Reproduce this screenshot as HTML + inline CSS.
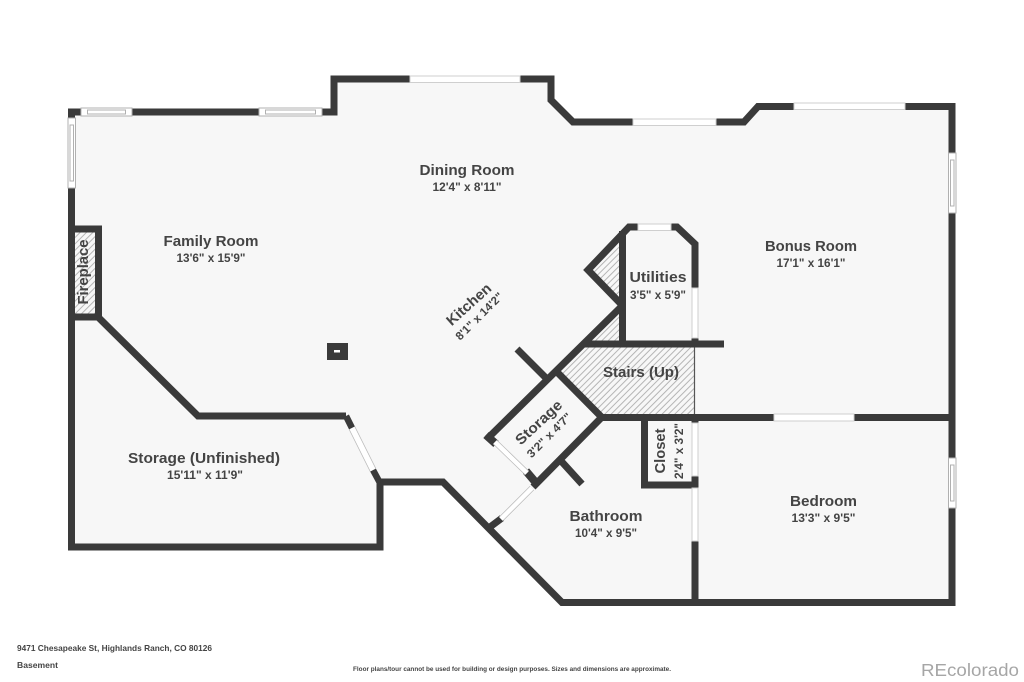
<!DOCTYPE html>
<html><head><meta charset="utf-8"><style>
html,body{margin:0;padding:0;background:#fff}
svg{display:block}
text{font-family:"Liberation Sans",sans-serif;font-weight:700;fill:#444;text-anchor:middle}
.n{font-size:14.5px}.d{font-size:11.5px}
</style></head><body>
<svg width="1024" height="682" viewBox="0 0 1024 682" xmlns="http://www.w3.org/2000/svg">
<defs>
<pattern id="h" width="4.500" height="4.500" patternUnits="userSpaceOnUse" patternTransform="rotate(-45)"><rect width="4.500" height="4.500" fill="#f7f7f7"/><rect width="4.500" height="1" fill="#b5b5b5"/></pattern>
</defs>
<rect width="1024" height="682" fill="#fff"/>
<polygon points="71,112 334,112 334,79 551,79 551,100 573,122 744,122 758,106 952,106 952,602 562,602 443,482 380,482 380,547 71,547" fill="#f7f7f7"/>

<!-- hatching -->
<polygon points="75,232 95,232 95,314 75,314" fill="url(#h)"/>
<polygon points="560,372 583,347 694,347 694,414 602,414" fill="url(#h)"/>
<polygon points="593,270 619,243 619,298" fill="url(#h)"/>
<polygon points="592,341 619,341 619,313" fill="url(#h)"/>
<line x1="694.5" y1="347" x2="694.5" y2="415" stroke="#555" stroke-width="1.2"/>

<!-- walls -->
<g fill="none" stroke="#3a3a3a" stroke-width="7" stroke-linejoin="miter" stroke-linecap="butt">
<polyline points="71.5,547 71.5,112 334,112 334,79 551,79 551,100 573,122 744,122 758,106.500 952,106.500 952,602.500 562,602.500 443,482 380,482 380,547 68,547"/>
<polyline points="75,229 98.500,229 98.500,317 71,317"/>
<polyline points="98,317 198,416 346,416"/>
<polyline points="622.500,231 622.500,344"/>
<polyline points="652,227 629,227 588,270 622,305"/>
<polyline points="660,227 677,227 695,244 695,300"/>
<line x1="583" y1="344" x2="724" y2="344"/>
<line x1="487" y1="439" x2="622" y2="306"/>
<line x1="557" y1="372" x2="602" y2="417.500"/>
<line x1="600" y1="417.500" x2="952" y2="417.500"/>
<polyline points="602,417 533,487"/>
<polyline points="644.500,417 644.500,485 698,485"/>
<line x1="695" y1="476" x2="695" y2="488"/>
<line x1="695" y1="541" x2="695" y2="602"/>
<line x1="695" y1="344" x2="695" y2="338"/>
<line x1="695" y1="417" x2="695" y2="424"/>
<line x1="517" y1="349" x2="546" y2="378"/>
<line x1="562" y1="462" x2="582" y2="484"/>
<line x1="486" y1="435" x2="496" y2="444" stroke-width="8"/>
<line x1="526" y1="471" x2="537" y2="484" stroke-width="8"/>
<line x1="490" y1="527" x2="502" y2="518"/>
<polyline points="346,416 352,428" stroke-width="6.500"/>
<polyline points="373,470 380,483" stroke-width="6.500"/>
</g>

<!-- plain windows -->
<g fill="#fff" stroke="#cfcfcf" stroke-width="1">
<rect x="410" y="76" width="110" height="6.500"/>
<rect x="633" y="119" width="83" height="6.500"/>
<rect x="794" y="103" width="111" height="6.500"/>
<rect x="638" y="224" width="33" height="6.500"/>
<rect x="692" y="288" width="6" height="50"/>
<rect x="692" y="423" width="6" height="53"/>
<rect x="692" y="488" width="6" height="53"/>
<rect x="774" y="414" width="80" height="7"/>
</g>
<!-- diagonal windows -->
<g stroke-linecap="butt">
<line x1="352" y1="428" x2="373" y2="470" stroke="#bbb" stroke-width="7"/>
<line x1="352" y1="428" x2="373" y2="470" stroke="#fff" stroke-width="5.500"/>
<line x1="495" y1="442" x2="527" y2="473" stroke="#bbb" stroke-width="6"/>
<line x1="495" y1="442" x2="527" y2="473" stroke="#fff" stroke-width="4.500"/>
<line x1="501" y1="519" x2="532" y2="488" stroke="#bbb" stroke-width="6"/>
<line x1="501" y1="519" x2="532" y2="488" stroke="#fff" stroke-width="4.500"/>
</g>
<!-- framed windows: horizontal -->
<g fill="#fff" stroke="#b0b0b0" stroke-width="1">
<rect x="81" y="108" width="51" height="8"/>
<rect x="87.500" y="110" width="38" height="4"/>
<rect x="259" y="108" width="63" height="8"/>
<rect x="265.500" y="110" width="50" height="4"/>
<rect x="68" y="118" width="7.500" height="70"/>
<rect x="70" y="125" width="3.500" height="56"/>
<rect x="948.500" y="153" width="7.500" height="60"/>
<rect x="950.500" y="160" width="3.500" height="46"/>
<rect x="948.500" y="458" width="7.500" height="50"/>
<rect x="950.500" y="465" width="3.500" height="36"/>
</g>
<rect x="327" y="343" width="21" height="17" fill="#3a3a3a"/>
<rect x="334" y="350" width="6" height="2.500" fill="#fff"/>

<!-- labels -->
<text class="n" x="467" y="175" textLength="95" lengthAdjust="spacingAndGlyphs">Dining Room</text>
<text class="d" x="467" y="191" textLength="69" lengthAdjust="spacingAndGlyphs">12'4" x 8'11"</text>
<text class="n" x="211" y="246" textLength="95" lengthAdjust="spacingAndGlyphs">Family Room</text>
<text class="d" x="211" y="262" textLength="69" lengthAdjust="spacingAndGlyphs">13'6" x 15'9"</text>
<text class="n" x="811" y="251" textLength="92" lengthAdjust="spacingAndGlyphs">Bonus Room</text>
<text class="d" x="811" y="267" textLength="69" lengthAdjust="spacingAndGlyphs">17'1" x 16'1"</text>
<text class="n" x="658" y="282" textLength="57" lengthAdjust="spacingAndGlyphs">Utilities</text>
<text class="d" x="658" y="299" textLength="56" lengthAdjust="spacingAndGlyphs">3'5" x 5'9"</text>
<text class="n" x="641" y="377" textLength="76" lengthAdjust="spacingAndGlyphs">Stairs (Up)</text>
<text class="n" x="606" y="521" textLength="73" lengthAdjust="spacingAndGlyphs">Bathroom</text>
<text class="d" x="606" y="537" textLength="62" lengthAdjust="spacingAndGlyphs">10'4" x 9'5"</text>
<text class="n" x="823.500" y="506" textLength="67" lengthAdjust="spacingAndGlyphs">Bedroom</text>
<text class="d" x="823.500" y="522" textLength="64" lengthAdjust="spacingAndGlyphs">13'3" x 9'5"</text>
<text class="n" x="204" y="463" textLength="152" lengthAdjust="spacingAndGlyphs">Storage (Unfinished)</text>
<text class="d" x="205" y="479" textLength="76" lengthAdjust="spacingAndGlyphs">15'11" x 11'9"</text>
<text class="n" transform="translate(472,308) rotate(-42)" textLength="55" lengthAdjust="spacingAndGlyphs">Kitchen</text>
<text class="d" transform="translate(482,319) rotate(-45)" textLength="62" lengthAdjust="spacingAndGlyphs">8'1" x 14'2"</text>
<text class="n" transform="translate(542,426) rotate(-43)" textLength="58" lengthAdjust="spacingAndGlyphs">Storage</text>
<text class="d" transform="translate(552,438) rotate(-45)" textLength="58" lengthAdjust="spacingAndGlyphs">3'2" x 4'7"</text>
<text class="n" transform="translate(665,451) rotate(-90)" textLength="45" lengthAdjust="spacingAndGlyphs">Closet</text>
<text class="d" transform="translate(683,451) rotate(-90)" textLength="56" lengthAdjust="spacingAndGlyphs">2'4" x 3'2"</text>
<text class="n" transform="translate(88,272) rotate(-90)" textLength="65" lengthAdjust="spacingAndGlyphs">Fireplace</text>

<!-- footer -->
<text x="17" y="651" style="font-size:8.500px;text-anchor:start" textLength="195" lengthAdjust="spacingAndGlyphs">9471 Chesapeake St, Highlands Ranch, CO 80126</text>
<text x="17" y="668" style="font-size:8.500px;text-anchor:start" textLength="41" lengthAdjust="spacingAndGlyphs">Basement</text>
<text x="353" y="671" style="font-size:6px;text-anchor:start" textLength="318" lengthAdjust="spacingAndGlyphs">Floor plans/tour cannot be used for building or design purposes. Sizes and dimensions are approximate.</text>
<text x="921" y="676" style="font-size:17.500px;font-weight:400;fill:#a6a6a6;text-anchor:start" textLength="98" lengthAdjust="spacingAndGlyphs">REcolorado</text>
</svg>
</body></html>
